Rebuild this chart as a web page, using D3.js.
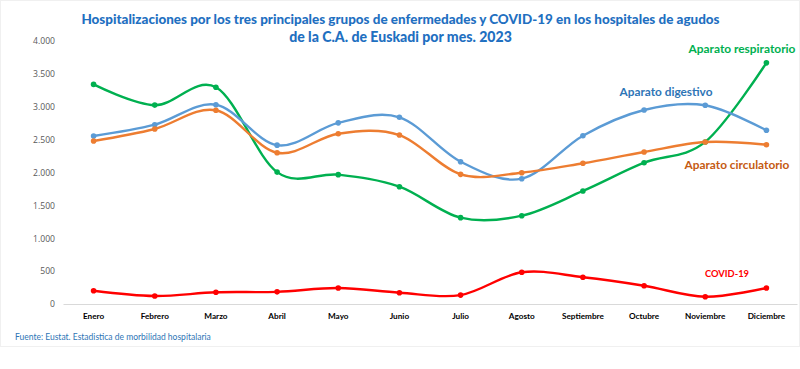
<!DOCTYPE html>
<html><head><meta charset="utf-8">
<script src="https://cdn.jsdelivr.net/npm/d3@7"></script>
<style>body{margin:0;background:#fff}svg{display:block}</style>
</head><body>
<svg id="c" width="800" height="369"></svg>
<script>
const months = ["Enero","Febrero","Marzo","Abril","Mayo","Junio","Julio","Agosto","Septiembre","Octubre","Noviembre","Diciembre"];
const respiratorio = [3340,3025,3296,2006,1967,1784,1313,1343,1719,2149,2465,3668];
const digestivo    = [2555,2727,3031,2416,2755,2840,2164,1906,2560,2951,3022,2642];
const circulatorio = [2479,2662,2946,2301,2590,2570,1972,1997,2140,2312,2464,2423];
const covid        = [202,122,178,185,243,172,135,482,406,278,111,243];
const yTicks = [0,500,1000,1500,2000,2500,3000,3500,4000];
const titleLines = ["Hospitalizaciones por los tres principales grupos de enfermedades y COVID-19 en los hospitales de agudos","de la C.A. de Euskadi por mes. 2023"];
const source = "Fuente: Eustat. Estadistica de morbilidad hospitalaria";

const series = [
  {name:"Aparato respiratorio", values:respiratorio, color:"#00B050", labelColor:"#00B050", lx:742, ly:49, lw:107},
  {name:"Aparato digestivo", values:digestivo, color:"#5B9BD5", labelColor:"#2E75B6", lx:666, ly:92, lw:93},
  {name:"Aparato circulatorio", values:circulatorio, color:"#ED7D31", labelColor:"#C55A11", lx:737, ly:165, lw:105},
  {name:"COVID-19", values:covid, color:"#FF0000", labelColor:"#FF0000", lx:727, ly:274, lw:44}
];

const svg = d3.select("#c");
svg.append("rect").attr("x",0.5).attr("y",0.5).attr("width",799).attr("height",346)
  .attr("fill","#fff").attr("stroke","#f0f0f0");

const x = d3.scaleBand().domain(months).range([63,797]);
const y = d3.scaleLinear().domain([0,4000]).range([304,41]);

const font = "Lato, 'Open Sans', sans-serif";
function fit(el, base, target){
  const w = el.node().getComputedTextLength();
  el.attr("font-size", base*target/w);
}

// title
const tw = [639, 223];
titleLines.forEach((t,i)=>{
  const el = svg.append("text").attr("x",400.5).attr("y",[24,42][i]).attr("text-anchor","middle")
    .attr("font-family",font).attr("font-weight","900").attr("font-size",14).attr("fill","#1F70C1").text(t);
  fit(el,14,tw[i]);
});

// y axis labels
const ya = svg.append("g").attr("transform","translate(55,0)")
  .call(d3.axisLeft(y).tickValues(yTicks).tickSize(0).tickPadding(0)
    .tickFormat(d=>d3.format(",")(d).replace(/,/g,".")));
ya.select(".domain").remove();
ya.selectAll("text").attr("font-family","'Open Sans', sans-serif").attr("font-size",8.6).attr("fill","#595959");

// x axis
const xa = svg.append("g").attr("transform","translate(0,304)")
  .call(d3.axisBottom(x).tickSize(0).tickPadding(9));
xa.select(".domain").attr("stroke","#d9d9d9").attr("stroke-width",1);
xa.selectAll("text").attr("font-family","Lato, sans-serif").attr("font-weight","bold")
  .attr("font-size",8.2).attr("fill","#000");

// lines
const line = d3.line().x((d,i)=>x(months[i])+x.bandwidth()/2).y(d=>y(d)).curve(d3.curveCardinal.tension(0));
series.forEach(s=>{
  svg.append("path").datum(s.values).attr("d",line).attr("fill","none")
    .attr("stroke",s.color).attr("stroke-width",2.4).attr("stroke-linejoin","round");
  svg.append("g").selectAll("circle").data(s.values).join("circle")
    .attr("cx",(d,i)=>x(months[i])+x.bandwidth()/2).attr("cy",d=>y(d)).attr("r",2.8).attr("fill",s.color);
  const t = svg.append("text").attr("x",s.lx).attr("y",s.ly).attr("dy","0.35em").attr("text-anchor","middle")
    .attr("font-family",font).attr("font-weight","bold").attr("font-size",11).attr("fill",s.labelColor).text(s.name);
  fit(t,11,s.lw);
});

// source
const st = svg.append("text").attr("x",15).attr("y",337).attr("dy","0.35em").attr("font-family",font)
  .attr("font-size",8.6).attr("fill","#2E75B6").text(source);
fit(st,8.6,196);
</script>
</body></html>
